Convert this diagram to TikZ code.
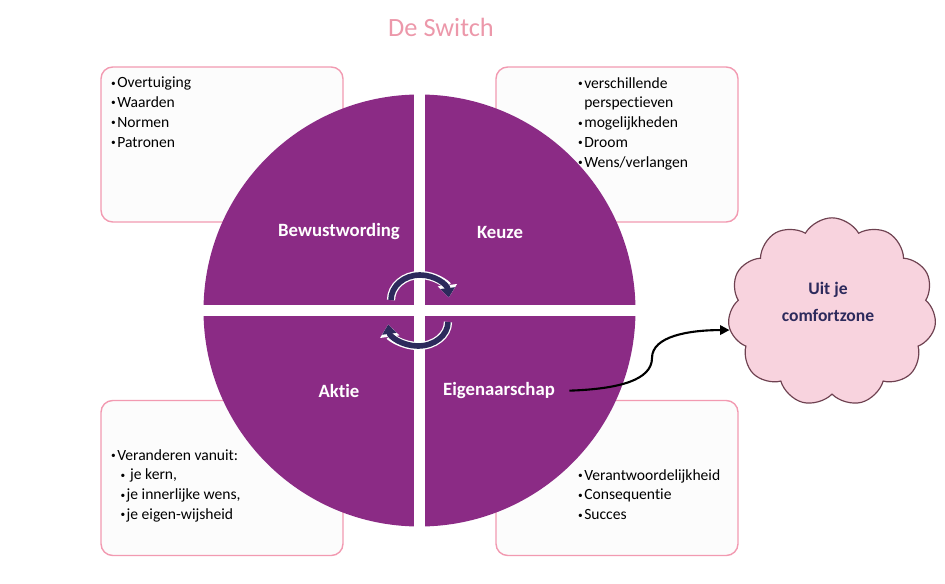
\documentclass[tikz,border=0pt]{standalone}
\usepackage{fontspec}
\setmainfont{Carlito}[Ligatures=NoCommon]
\usetikzlibrary{arrows.meta, shapes.symbols, positioning}

\definecolor{quadpurple}{HTML}{8B2B85}
\definecolor{boxpink}{HTML}{F29AB1}
\definecolor{boxwhite}{HTML}{FCFCFC}
\definecolor{titlepink}{HTML}{EC98AA}
\definecolor{cloudfill}{HTML}{F8D3DE}
\definecolor{cloudline}{HTML}{6E4150}
\definecolor{navy}{HTML}{2D2A5C}

\newcommand\itm{\raisebox{1.6pt}{\fontsize{8}{8}\selectfont•}\hspace{1.2pt}}

\begin{document}
\begin{tikzpicture}[x=0.03cm, y=-0.03cm]
    \tikzset{
        infobox/.style={draw=boxpink, fill=boxwhite, line width=1.2pt, rounded corners=10pt, minimum width=7.26cm, minimum height=4.65cm},
        itemlist/.style={anchor=north west, inner sep=0pt, align=left, font=\fontsize{13.3}{17}\selectfont},
        quadlabel/.style={text=white, font=\bfseries\fontsize{16}{18}\selectfont},
        turnarrow/.style={draw=navy, line width=4.8pt, -{Triangle[width=12pt,length=8pt]},
            preaction={draw=white, line width=7pt, -{Triangle[width=16pt,length=10.5pt]}}},
        connector/.style={draw=black, line width=1.8pt, shorten <=9pt, -{Triangle[width=8pt,length=8pt]}}
    }
    \useasboundingbox (0,0) rectangle (945,584);

    % Title
    \node[text=titlepink, font=\fontsize{22.5}{26}\selectfont] (title) at (441,27) {De Switch};

    % Boxes
    \node[infobox] (bw-box) at (222,144.5) {};
    \node[infobox] (kz-box) at (617,144.5) {};
    \node[infobox] (ak-box) at (222,478) {};
    \node[infobox] (eg-box) at (617,478) {};

    \node[itemlist] (bw-list) at (111,77) {\itm Overtuiging\\\itm Waarden\\\itm Normen\\\itm Patronen};
    \node[itemlist] (kz-list) at (578,77) {\itm verschillende\\\hphantom{\itm}perspectieven\\\itm mogelijkheden\\\itm Droom\\\itm Wens/verlangen};
    \node[itemlist] (ak-list) at (111,449) {\itm Veranderen vanuit:\\\hspace{8pt}\itm\ je kern,\\\hspace{8pt}\itm je innerlijke wens,\\\hspace{8pt}\itm je eigen-wijsheid};
    \node[itemlist] (eg-list) at (578,469) {\itm Verantwoordelijkheid\\\itm Consequentie\\\itm Succes};

    % Circle
    \begin{scope}
        \clip (419.5,310.5) circle[radius=216];
        \fill[quadpurple] (200,90) rectangle (414,305);
        \fill[quadpurple] (425,90) rectangle (640,305);
        \fill[quadpurple] (200,316) rectangle (414,530);
        \fill[quadpurple] (425,316) rectangle (640,530);
    \end{scope}

    \node[quadlabel] (bw) at (339,232) {Bewustwording};
    \node[quadlabel] (kz) at (500,232) {Keuze};
    \node[quadlabel] (ak) at (339,391) {Aktie};
    \node[quadlabel] (eg) at (499,391) {Eigenaarschap};

    % Turning arrows
    \draw[turnarrow] (391,300) arc[start angle=180, end angle=354, x radius=29, y radius=25];
    \draw[turnarrow] (448,322) arc[start angle=0, end angle=174, x radius=30, y radius=24];

    % Cloud
    \node[cloud, cloud puffs=11, cloud puff arc=120, aspect=1.15, draw=cloudline, fill=cloudfill, line width=1pt,
        minimum width=6.25cm, minimum height=5.65cm] (cloud) at (832,312) {};
    \node[text=navy, align=center, font=\bfseries\fontsize{15}{23}\selectfont] (cloudtext) at (828,302) {Uit je\\comfortzone};

    % Edge
    \draw[connector] (eg.east) .. controls +(60,-2) and +(0,22) .. (652,358)
        .. controls +(0,-22) and +(-40,0) .. (cloud.190);
\end{tikzpicture}
\end{document}
